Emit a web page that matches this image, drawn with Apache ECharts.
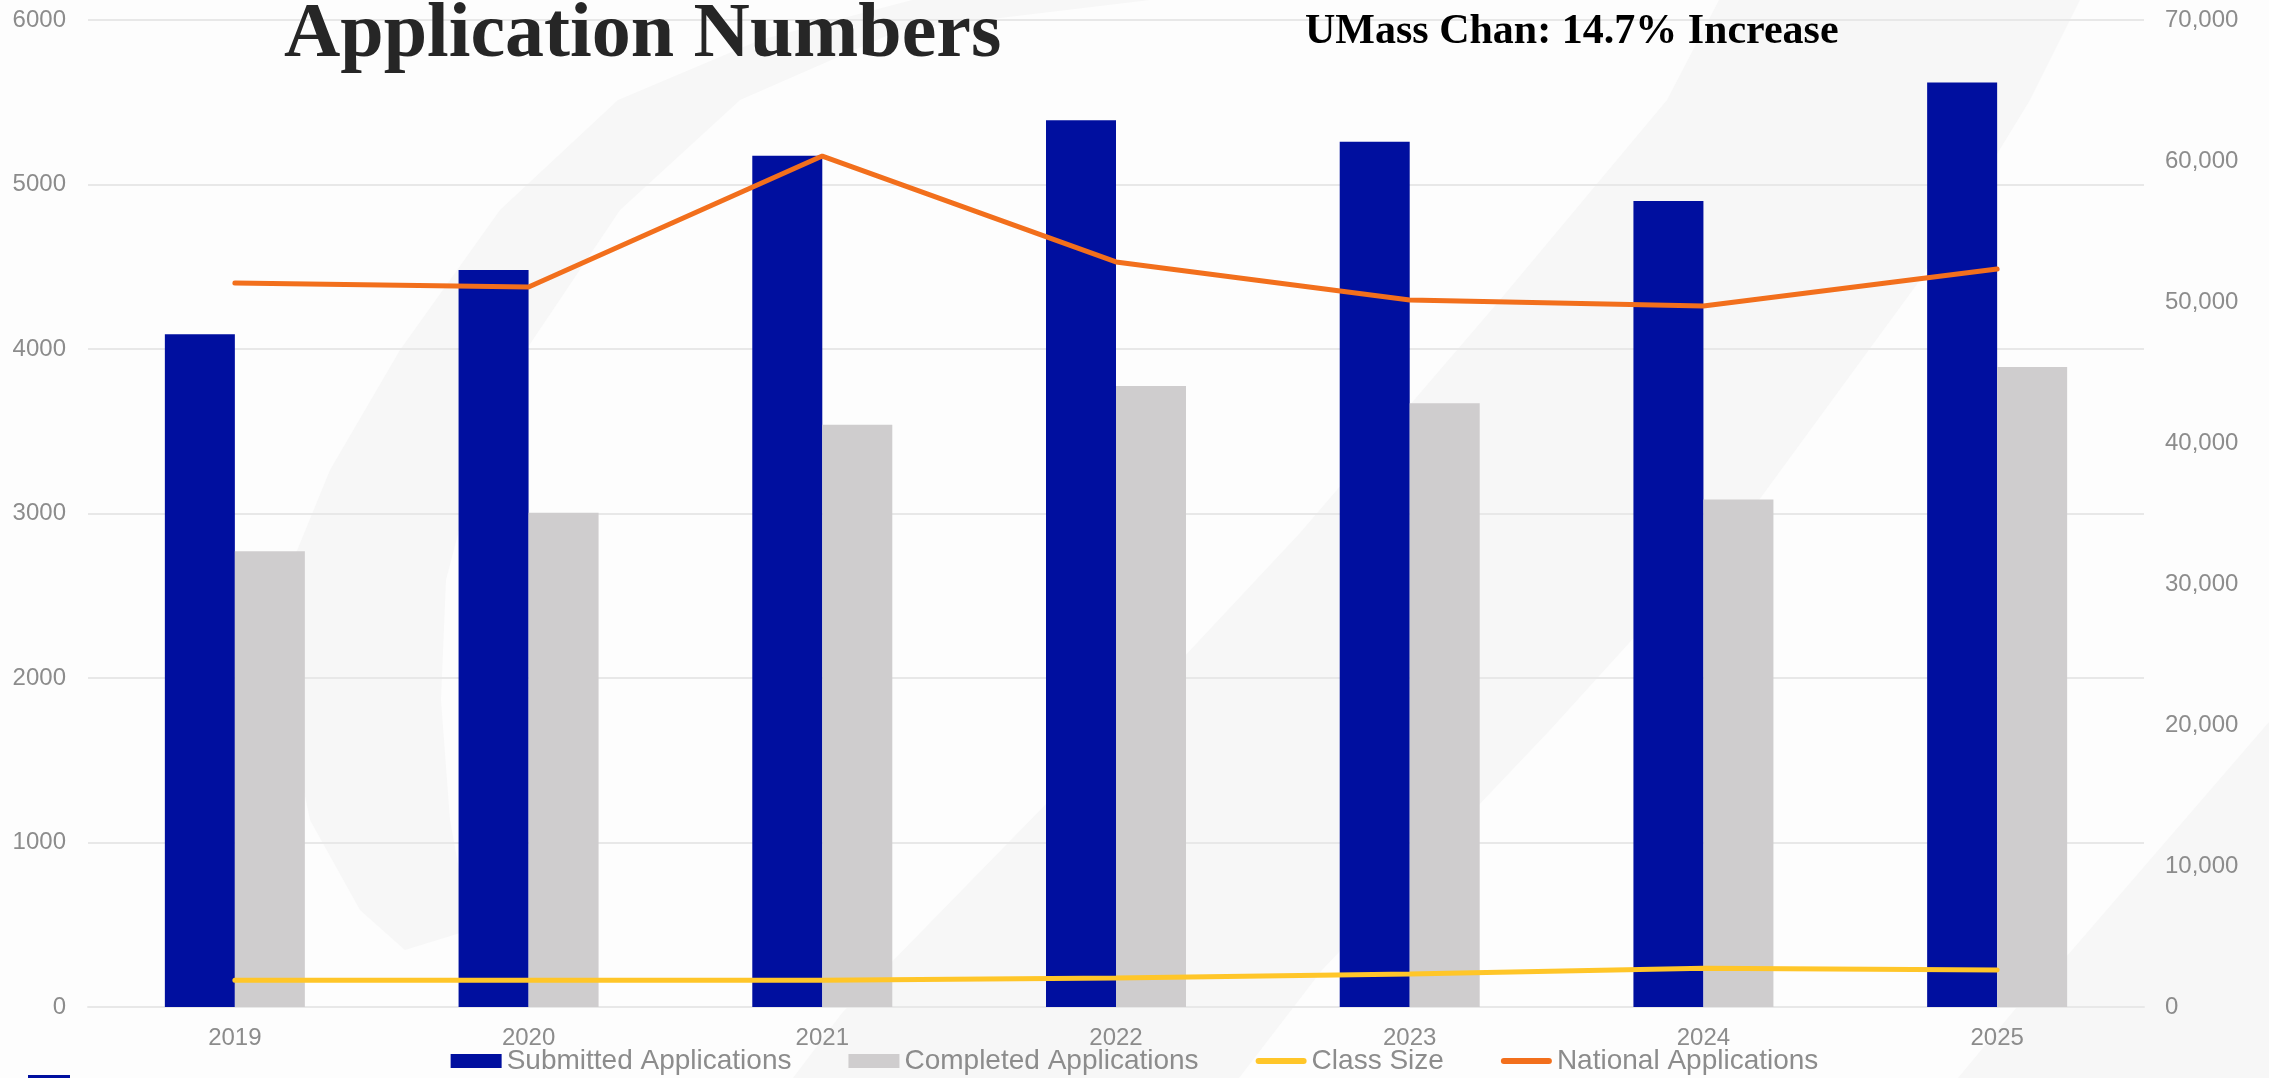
<!DOCTYPE html>
<html>
<head>
<meta charset="utf-8">
<title>Application Numbers</title>
<script src="https://cdn.jsdelivr.net/npm/echarts/dist/echarts.min.js"></script>
<style>
  html, body { margin: 0; padding: 0; background: #fdfdfd; }
  #main { width: 2269px; height: 1078px; }
</style>
</head>
<body>
<div id="main"></div>
<script>
// 数据
var years = ['2019', '2020', '2021', '2022', '2023', '2024', '2025'];
var submitted = [4090, 4480, 5175, 5390, 5260, 4900, 5620];
var completed = [2770, 3005, 3540, 3775, 3670, 3085, 3890];
var classSize = [162, 162, 163, 176, 200, 235, 225];
var national = [51350, 51060, 60350, 52840, 50140, 49710, 52340];

var leftTicks = [0, 6000, 1000];
var rightTicks = [0, 70000, 10000];

var labelColor = '#8c8c8c';
var gridColor = '#e8e8e8';
var shade = '#f7f7f7';

// 图例里的粗线图标（上下留白，让线条只有 6px 高）
var lineIcon = 'path://M0,0 M0,14 M3,4 L48,4 A3,3 0 0 1 48,10 L3,10 A3,3 0 0 1 3,4 Z';

var myChart = echarts.init(document.getElementById('main'));

myChart.setOption({
    backgroundColor: '#fdfdfd',
    textStyle: { fontFamily: '"Liberation Sans", Arial, sans-serif' },
    // 背景水印 + 标题
    graphic: [
        {
            type: 'polygon', z: -10, silent: true,
            shape: {
                points: [[912, 0], [760, 40], [618, 100], [500, 210], [400, 350], [330, 470], [285, 580],
                         [285, 700], [310, 820], [360, 910], [405, 950], [470, 930], [450, 820],
                         [441, 700], [446, 580], [480, 450], [526, 350], [620, 210], [740, 100],
                         [900, 30], [1150, 0]]
            },
            style: { fill: shade }
        },
        {
            type: 'polygon', z: -10, silent: true,
            shape: {
                points: [[1719, 0], [1667, 100], [1500, 300], [1300, 533], [1050, 800], [842, 1013],
                         [793, 1078], [1239, 1078], [1322, 970], [1550, 730], [1759, 500],
                         [1920, 280], [2030, 100], [2080, 0]]
            },
            style: { fill: shade }
        },
        {
            type: 'polygon', z: -10, silent: true,
            shape: {
                points: [[2269, 722], [2067, 956], [2017, 1007], [1958, 1078], [2269, 1078]]
            },
            style: { fill: shade }
        },
        {
            type: 'rect', z: 10, silent: true,
            shape: { x: 28, y: 1075, width: 42, height: 3 },
            style: { fill: '#000f9f' }
        },
        {
            type: 'text', z: 10, silent: true,
            x: 284, y: 36,
            style: {
                text: 'Application Numbers',
                font: 'bold 78px "Liberation Serif", "Times New Roman", serif',
                fill: '#262626',
                verticalAlign: 'middle'
            }
        },
        {
            type: 'text', z: 10, silent: true,
            x: 1305, y: 32,
            style: {
                text: 'UMass Chan: 14.7% Increase',
                font: 'bold 42px "Liberation Serif", "Times New Roman", serif',
                fill: '#000000',
                verticalAlign: 'middle'
            }
        }
    ],
    grid: {
        left: 88,
        right: 125,
        top: 20,
        bottom: 71
    },
    legend: {
        left: 'center',
        top: 1042,
        itemWidth: 51,
        itemHeight: 14,
        itemGap: 57,
        textStyle: { fontSize: 28, color: labelColor },
        data: [
            { name: 'Submitted Applications', icon: 'rect' },
            { name: 'Completed Applications', icon: 'rect' },
            { name: 'Class Size', icon: lineIcon },
            { name: 'National Applications', icon: lineIcon }
        ]
    },
    xAxis: {
        type: 'category',
        data: years,
        axisTick: { show: false },
        axisLine: { lineStyle: { color: gridColor, width: 2 } },
        axisLabel: { color: labelColor, fontSize: 24, margin: 19 }
    },
    yAxis: [
        {
            type: 'value',
            min: leftTicks[0], max: leftTicks[1], interval: leftTicks[2],
            axisLine: { show: false },
            axisTick: { show: false },
            splitLine: { lineStyle: { color: gridColor, width: 2 } },
            axisLabel: { color: labelColor, fontSize: 24, margin: 22, formatter: function (v) { return String(v); } }
        },
        {
            type: 'value',
            min: rightTicks[0], max: rightTicks[1], interval: rightTicks[2],
            axisLine: { show: false },
            axisTick: { show: false },
            splitLine: { show: false },
            axisLabel: { color: labelColor, fontSize: 24, margin: 21, formatter: function (v) { return v.toLocaleString('en-US'); } }
        }
    ],
    series: [
        {
            name: 'Submitted Applications',
            type: 'bar',
            data: submitted,
            barWidth: 70,
            barGap: '0%',
            itemStyle: { color: '#000f9f' }
        },
        {
            name: 'Completed Applications',
            type: 'bar',
            data: completed,
            barWidth: 70,
            barGap: '0%',
            itemStyle: { color: '#cfcdce' }
        },
        {
            name: 'Class Size',
            type: 'line',
            data: classSize,
            symbol: 'none',
            color: '#ffc629',
            lineStyle: { color: '#ffc629', width: 5, cap: 'round' }
        },
        {
            name: 'National Applications',
            type: 'line',
            yAxisIndex: 1,
            data: national,
            symbol: 'none',
            color: '#f26f1c',
            lineStyle: { color: '#f26f1c', width: 5, cap: 'round' }
        }
    ]
});
</script>
</body>
</html>
